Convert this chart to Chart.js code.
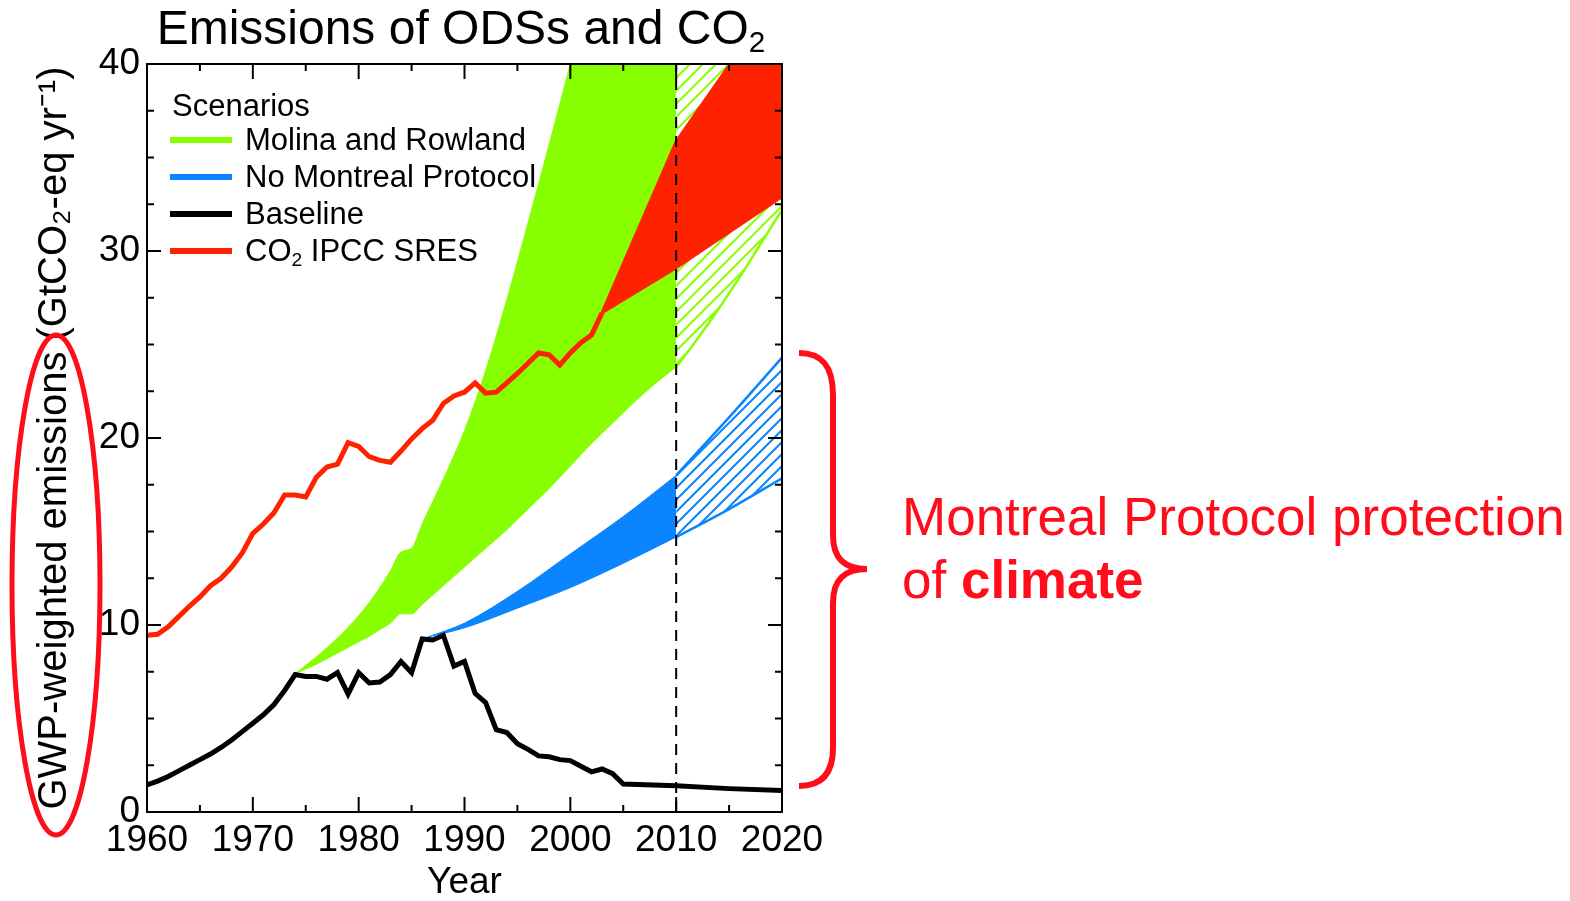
<!DOCTYPE html>
<html>
<head>
<meta charset="utf-8">
<script src="https://cdn.jsdelivr.net/npm/chart.js@4.4.1/dist/chart.umd.min.js"></script>
<style>
  body { margin:0; background:#fff; font-family:"Liberation Sans", Arial, sans-serif; }
  #wrap { position:relative; width:1570px; height:901px; overflow:hidden; }
  #c { position:absolute; left:0; top:0; }
  .txt { position:absolute; white-space:nowrap; line-height:1; color:#000; }
  .title { left:461px; top:4px; font-size:48px; transform:translateX(-50%); }
  .title sub, .leg sub { font-size:62%; vertical-align:-0.28em; line-height:0; }
  .leg { font-size:31px; }
  .legline { position:absolute; left:170px; width:62px; height:6px; }
  .note { left:902px; font-size:53px; color:#ff0d1a; }
</style>
</head>
<body>
<div id="wrap">
  <canvas id="c" width="1570" height="901"></canvas>
  <div class="txt title">Emissions of ODSs and CO<sub>2</sub></div>
  <div id="legend"></div>
  <div class="txt note" style="top:490px">Montreal Protocol protection</div>
  <div class="txt note" style="top:553px">of <b>climate</b></div>
</div>
<script>
// ---- data ----
const baseYears = [1960,1961,1962,1963,1964,1965,1966,1967,1968,1969,1970,1971,1972,1973,1974,1975,1976,1977,1978,1979,
  1980,1981,1982,1983,1984,1985,1986,1987,1988,1989,1990,1991,1992,1993,1994,1995,1996,1997,1998,1999,
  2000,2001,2002,2003,2004,2005,2010,2015,2020];
const baseVals = [1.45,1.65,1.9,2.2,2.5,2.8,3.1,3.45,3.85,4.3,4.75,5.2,5.75,6.5,7.35,7.25,7.25,7.1,7.45,6.3,
  7.45,6.9,6.95,7.35,8.05,7.45,9.25,9.2,9.45,7.8,8.05,6.35,5.85,4.4,4.25,3.65,3.35,3.0,2.95,2.8,
  2.75,2.45,2.15,2.3,2.05,1.5,1.4,1.25,1.15];

const co2Years = [1960,1961,1962,1963,1964,1965,1966,1967,1968,1969,1970,1971,1972,1973,1974,1975,1976,1977,1978,1979,
  1980,1981,1982,1983,1984,1985,1986,1987,1988,1989,1990,1991,1992,1993,1994,1995,1996,1997,1998,1999,
  2000,2001,2002,2003];
const co2Vals = [9.45,9.5,9.9,10.45,11.0,11.5,12.1,12.5,13.1,13.85,14.9,15.4,16.0,16.95,16.95,16.85,17.9,18.45,18.6,19.75,
  19.55,19.0,18.8,18.7,19.3,19.95,20.5,20.95,21.85,22.25,22.45,22.95,22.4,22.45,22.95,23.45,24.0,24.55,24.45,23.9,
  24.55,25.1,25.5,26.7];

const sresYears = [2003, 2010, 2020];
const sresHigh = [26.7, 35.85, 44.0];
const sresLow = [26.7, 29.1, 32.9];

const nmpYears = [1986.5, 1990, 1995, 2000, 2005, 2010];
const nmpHigh = [9.35, 10.1, 11.8, 13.8, 15.8, 18.0];
const nmpLow = [9.35, 9.85, 10.9, 12.0, 13.3, 14.7];
const nmpFutYears = [2010, 2015, 2020];
const nmpFutHigh = [18.0, 21.1, 24.3];
const nmpFutLow = [14.7, 16.2, 17.85];

const mrYears = [1974,1976,1978,1980,1981,1982,1983,1984,1985,1986,1988,1990,1992,1994,1996,1998,2000,2002,2004,2006,2008,2010];
const mrHigh = [7.4,8.3,9.3,10.5,11.2,12.0,12.9,13.9,14.1,15.4,17.8,20.4,23.6,27.4,31.5,35.7,40.0,44.4,48.9,53.5,58.2,63];
const mrLow = [7.4,7.9,8.5,9.1,9.4,9.75,10.1,10.6,10.6,11.1,12.1,13.1,14.1,15.1,16.2,17.3,18.5,19.7,20.8,21.9,22.9,23.8];
const mrFutYears = [2010, 2012, 2014, 2016, 2018, 2020];
const mrFutHigh = [63, 69, 75, 81, 86, 92];
const mrFutLow = [23.8, 25.3, 26.9, 28.6, 30.4, 32.2];

const projYear = 2010;
const yRange = [0, 40];

const legendLabels = ['Molina and Rowland', 'No Montreal Protocol', 'Baseline', 'CO<sub>2</sub> IPCC SRES'];
const legendColors = ['#88ff00', '#0a84ff', '#000000', '#ff2200'];

// ---- colours ----
const GREEN = '#88ff00', BLUE = '#0a84ff', RED = '#ff2200', NOTE = '#ff0d1a';

const pts = (xs, ys) => xs.map((x, i) => ({x, y: ys[i]}));

function hatch(color, gap, lw) {
  const c = document.createElement('canvas');
  c.width = gap; c.height = gap;
  const g = c.getContext('2d');
  g.strokeStyle = color; g.lineWidth = lw;
  g.beginPath();
  g.moveTo(0, gap); g.lineTo(gap, 0);
  g.moveTo(-gap/2, gap/2); g.lineTo(gap/2, -gap/2);
  g.moveTo(gap/2, gap*1.5); g.lineTo(gap*1.5, gap/2);
  g.stroke();
  return g.createPattern(c, 'repeat');
}

// legend (html)
document.getElementById('legend').innerHTML =
  `<div class="txt leg" style="left:172px;top:90px">Scenarios</div>` +
  legendLabels.map((l, i) => {
    const cy = 140 + i * 37;
    return `<div class="legline" style="top:${cy-3}px;background:${legendColors[i]}"></div>
            <div class="txt leg" style="left:245px;top:${cy-16}px">${l}</div>`;
  }).join('');

// ---- plugins ----
const frameTicks = {
  id: 'frameTicks',
  afterDatasetsDraw(chart) {
    const {ctx, chartArea: a, scales: {x, y}} = chart;
    ctx.save();
    ctx.strokeStyle = '#000';
    ctx.lineWidth = 2;
    ctx.strokeRect(a.left, a.top, a.right - a.left, a.bottom - a.top);
    ctx.beginPath();
    for (let v = 0; v <= 40; v += 2.5) {
      const py = y.getPixelForValue(v), len = v % 10 === 0 ? 14 : 7;
      ctx.moveTo(a.left, py); ctx.lineTo(a.left + len, py);
      ctx.moveTo(a.right, py); ctx.lineTo(a.right - len, py);
    }
    for (let yr = 1960; yr <= 2020; yr += 5) {
      const px = x.getPixelForValue(yr), len = yr % 10 === 0 ? 15 : 7;
      ctx.moveTo(px, a.bottom); ctx.lineTo(px, a.bottom - len);
      ctx.moveTo(px, a.top); ctx.lineTo(px, a.top + len);
    }
    ctx.stroke();
    ctx.restore();
  }
};

const marks = {
  id: 'marks',
  afterDraw(chart) {
    const ctx = chart.ctx;
    ctx.save();
    ctx.strokeStyle = NOTE;
    ctx.lineWidth = 5;
    ctx.beginPath();
    ctx.ellipse(56, 585, 44, 250, 0, 0, Math.PI * 2);
    ctx.stroke();
    // brace
    ctx.lineWidth = 6;
    ctx.beginPath();
    ctx.moveTo(799, 353);
    ctx.bezierCurveTo(822, 353, 833, 366, 833, 395);
    ctx.lineTo(833, 535);
    ctx.bezierCurveTo(833, 559, 845, 569, 867, 569);
    ctx.bezierCurveTo(845, 569, 833, 579, 833, 603);
    ctx.lineTo(833, 748);
    ctx.bezierCurveTo(833, 773, 822, 786, 799, 786);
    ctx.stroke();
    ctx.restore();
  }
};

// ---- chart ----
Chart.defaults.font.family = '"Liberation Sans", Arial, sans-serif';
Chart.defaults.color = '#000';

const line = (data, color, width, extra) => Object.assign({
  data, borderColor: color, borderWidth: width, pointRadius: 0, fill: false, tension: 0
}, extra || {});

new Chart(document.getElementById('c'), {
  type: 'line',
  data: {
    datasets: [
      line(pts([projYear, projYear], yRange), '#000', 2, {borderDash: [11, 8]}),
      line(pts(baseYears, baseVals), '#000', 5, {label: 'Baseline', borderJoinStyle: 'miter'}),
      line(pts(co2Years, co2Vals), RED, 5, {label: 'CO2 history'}),
      line(pts(sresYears, sresHigh), RED, 3),
      line(pts(sresYears, sresLow), RED, 3),
      line(pts(sresYears, sresHigh), RED, 0, {fill: '+1', backgroundColor: RED}),
      line(pts(sresYears, sresLow), RED, 0),
      line(pts(nmpYears, nmpHigh), BLUE, 1, {fill: '+1', backgroundColor: BLUE, cubicInterpolationMode: 'monotone'}),
      line(pts(nmpYears, nmpLow), BLUE, 1, {cubicInterpolationMode: 'monotone'}),
      line(pts(nmpFutYears, nmpFutHigh), BLUE, 2.5, {fill: '+1', backgroundColor: hatch(BLUE, 12, 2), cubicInterpolationMode: 'monotone'}),
      line(pts(nmpFutYears, nmpFutLow), BLUE, 2.5, {cubicInterpolationMode: 'monotone'}),
      line(pts(mrYears, mrHigh), GREEN, 1, {fill: '+1', backgroundColor: GREEN, cubicInterpolationMode: 'monotone'}),
      line(pts(mrYears, mrLow), GREEN, 1, {cubicInterpolationMode: 'monotone'}),
      line(pts(mrFutYears, mrFutHigh), GREEN, 0, {fill: '+1', backgroundColor: hatch(GREEN, 13, 2)}),
      line(pts(mrFutYears, mrFutLow), GREEN, 2.5, {cubicInterpolationMode: 'monotone'})
    ]
  },
  options: {
    responsive: false,
    animation: false,
    events: [],
    layout: { padding: { top: 64, right: 788, bottom: 0, left: 0 } },
    plugins: { legend: { display: false }, tooltip: { enabled: false } },
    scales: {
      x: {
        type: 'linear', min: 1960, max: 2020,
        grid: { display: false, drawTicks: false },
        border: { display: false },
        ticks: { stepSize: 10, maxRotation: 0, minRotation: 0, padding: 7,
                 font: { size: 37 }, callback: v => String(v) },
        title: { display: true, text: 'Year', font: { size: 37 }, padding: { top: 0, bottom: -4 } },
        afterFit: s => { s.height = 89; }
      },
      y: {
        min: 0, max: 40,
        grid: { display: false, drawTicks: false },
        border: { display: false },
        ticks: { stepSize: 10, padding: 7, font: { size: 37 } },
        title: { display: true, text: 'GWP-weighted emissions (GtCO₂-eq yr⁻¹)', font: { size: 40 },
                 padding: { top: 31, bottom: 0 } },
        afterFit: s => { s.width = 147; }
      }
    }
  },
  plugins: [frameTicks, marks]
});
</script>
</body>
</html>
